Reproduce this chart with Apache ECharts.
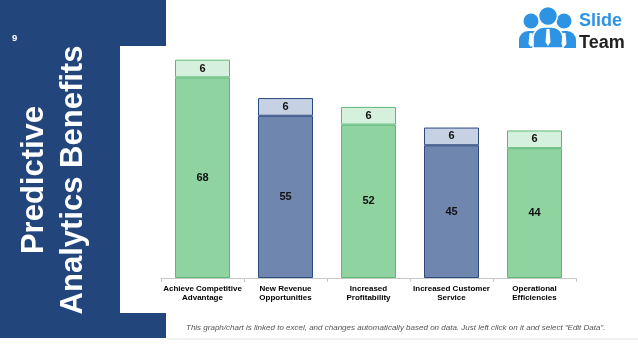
<!DOCTYPE html>
<html>
<head>
<meta charset="utf-8">
<script src="https://cdn.jsdelivr.net/npm/echarts@6/dist/echarts.min.js"></script>
<style>
html,body{margin:0;padding:0;background:#fff;}
#chart{width:638px;height:359px;}
</style>
</head>
<body>
<div id="chart"></div>
<script>
var categories = ["Achieve Competitive\nAdvantage", "New Revenue\nOpportunities", "Increased\nProfitability", "Increased Customer\nService", "Operational\nEfficiencies"];
var baseValues = [68, 55, 52, 45, 44];
var topValues = [6, 6, 6, 6, 6];
var yTicks = [0, 80];

var GREEN = {fill: '#8fd3a1', border: '#5db877', light: '#d5f0dc'};
var BLUE = {fill: '#6f87ae', border: '#2c4a7d', light: '#c6d1e3'};
function pal(i){ return i % 2 === 0 ? GREEN : BLUE; }

var chart = echarts.init(document.getElementById('chart'), null, {renderer: 'canvas'});
var F = 'Liberation Sans, Arial, sans-serif';
var NAVY = '#22457c';

var graphics = [
  {type: 'rect', shape: {x: 0, y: 0, width: 166, height: 338}, style: {fill: NAVY}, z: -10},
  {type: 'rect', shape: {x: 120, y: 46, width: 46, height: 267}, style: {fill: '#ffffff'}, z: -9},
  {type: 'line', shape: {x1: 166, y1: 339, x2: 638, y2: 339}, style: {stroke: '#e3e3e3', lineWidth: 1}, z: -9},
  {type: 'text', x: 12, y: 38, style: {text: '9', fill: '#ffffff', fontSize: 9.5, fontWeight: 'bold', fontFamily: F, align: 'left', verticalAlign: 'middle'}},
  {type: 'text', x: 34, y: 180, rotation: Math.PI / 2, style: {text: 'Predictive', fill: '#ffffff', fontSize: 31, fontWeight: 'bold', fontFamily: F, align: 'center', verticalAlign: 'middle'}},
  {type: 'text', x: 73, y: 180, rotation: Math.PI / 2, style: {text: 'Analytics Benefits', fill: '#ffffff', fontSize: 31, fontWeight: 'bold', fontFamily: F, align: 'center', verticalAlign: 'middle'}},
  {type: 'text', x: 186, y: 328, style: {text: 'This graph/chart is linked to excel, and changes automatically based on data. Just left click on it and select \u201cEdit Data\u201d.', fill: '#555555', fontSize: 8, fontStyle: 'italic', fontFamily: F, align: 'left', verticalAlign: 'middle'}},
  // logo icon
  {type: 'rect', shape: {x: 519, y: 31, width: 24, height: 17, r: [9, 9, 0, 0]}, style: {fill: '#2e93e3'}},
  {type: 'rect', shape: {x: 553, y: 31, width: 23, height: 17, r: [9, 9, 0, 0]}, style: {fill: '#2e93e3'}},
  {type: 'rect', shape: {x: 533, y: 27, width: 30, height: 21, r: [11, 11, 0, 0]}, style: {fill: '#2e93e3', stroke: '#ffffff', lineWidth: 1.5}},
  {type: 'circle', shape: {cx: 531, cy: 21, r: 7.5}, style: {fill: '#2e93e3'}},
  {type: 'circle', shape: {cx: 564, cy: 21, r: 7.5}, style: {fill: '#2e93e3'}},
  {type: 'circle', shape: {cx: 548, cy: 16, r: 9.5}, style: {fill: '#2e93e3', stroke: '#ffffff', lineWidth: 1.5}},
  {type: 'polygon', shape: {points: [[529.5, 33], [532.5, 33], [533.5, 44], [531, 47], [528.5, 44]]}, style: {fill: '#ffffff'}},
  {type: 'polygon', shape: {points: [[546.5, 29], [549.5, 29], [550.5, 42], [548, 46], [545.5, 42]]}, style: {fill: '#ffffff'}},
  {type: 'polygon', shape: {points: [[562.5, 33], [565.5, 33], [566.5, 44], [564, 47], [561.5, 44]]}, style: {fill: '#ffffff'}},
  {type: 'text', x: 579, y: 21, style: {text: 'Slide', fill: '#2e93e3', fontSize: 18, fontWeight: 'bold', fontFamily: F, align: 'left', verticalAlign: 'middle'}},
  {type: 'text', x: 579, y: 43, style: {text: 'Team', fill: '#222222', fontSize: 18, fontWeight: 'bold', fontFamily: F, align: 'left', verticalAlign: 'middle'}}
];

var option = {
  animation: false,
  grid: {left: 161, right: 62, top: 42, bottom: 81},
  xAxis: {
    type: 'category',
    data: categories,
    axisLine: {show: true, lineStyle: {color: '#c8c8c8', width: 1}},
    axisTick: {show: true, length: 4, lineStyle: {color: '#c8c8c8'}},
    axisLabel: {color: '#000', fontSize: 8, fontWeight: 'bold', fontFamily: F, lineHeight: 9.5, margin: 6, interval: 0}
  },
  yAxis: {
    type: 'value', min: yTicks[0], max: yTicks[1],
    show: false, splitLine: {show: false}
  },
  series: [
    {
      type: 'bar', stack: 's', barWidth: 55,
      data: baseValues.map(function(v, i){ return {value: v, itemStyle: {color: pal(i).fill, borderColor: pal(i).border, borderWidth: 1}}; }),
      label: {show: true, position: 'inside', color: '#111', fontSize: 11, fontWeight: 'bold', fontFamily: F}
    },
    {
      type: 'bar', stack: 's', barWidth: 55,
      data: topValues.map(function(v, i){ return {value: v, itemStyle: {color: pal(i).light, borderColor: pal(i).border, borderWidth: 1}}; }),
      label: {show: true, position: 'inside', color: '#111', fontSize: 11, fontWeight: 'bold', fontFamily: F}
    }
  ],
  graphic: graphics
};
chart.setOption(option);
</script>
</body>
</html>
